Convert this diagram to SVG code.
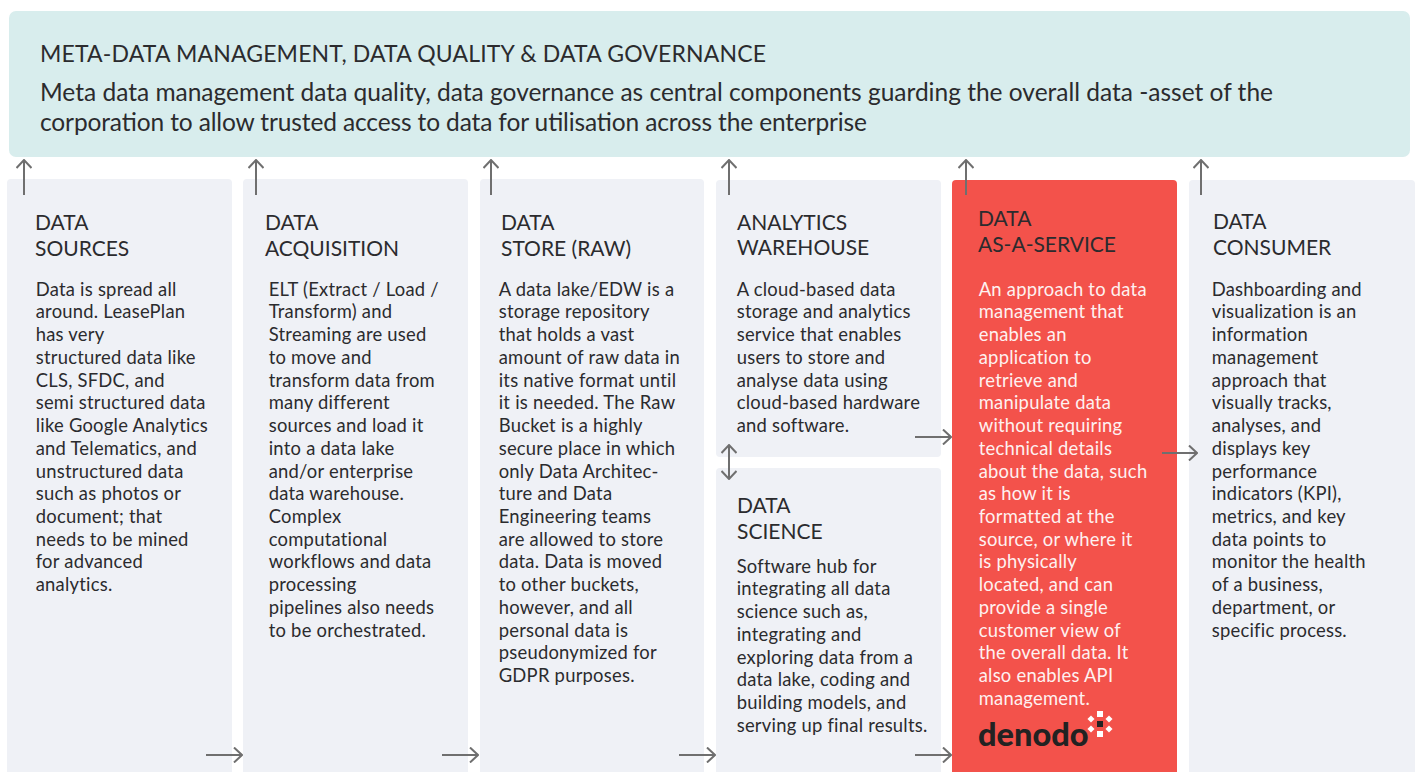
<svg xmlns="http://www.w3.org/2000/svg" width="1415" height="772" viewBox="0 0 1415 772">
<style>
text{font-family:"Lato","Open Sans",sans-serif;fill:#2b2b2e}
.h{font-size:21px}
.b{font-size:18.4px;letter-spacing:.24px;transform:translate(-.3px,.7px)}
.w{fill:#fff;opacity:.92}
.panel{fill:#eff1f6}
.c{fill:none;stroke:#6f6f6f;stroke-width:2}
</style>
<defs>
<marker id="a" viewBox="0 0 10 16" refX="9" refY="8" markerWidth="10" markerHeight="16" orient="auto-start-reverse" markerUnits="userSpaceOnUse"><path d="M1 0.5L9 8L1 15.5" fill="none" stroke="#6f6f6f" stroke-width="2"/></marker>
</defs>
<rect width="1415" height="772" fill="#fff"/>
<g id="top">
<rect x="9" y="11" width="1401" height="146" rx="7" fill="#d8eded"/>
<text x="40" y="62" font-size="23" textLength="726">META-DATA MANAGEMENT, DATA QUALITY &amp; DATA GOVERNANCE</text>
<text x="40" y="101" font-size="24.5" textLength="1233">Meta data management data quality, data governance as central components guarding the overall data -asset of the</text>
<text x="40" y="131" font-size="24.5" textLength="827">corporation to allow trusted access to data for utilisation across the enterprise</text>
</g>
<g id="sources">
<rect class="panel" x="7" y="179" width="225" height="600" rx="4"/>
<text class="h" x="35" y="230">DATA</text><text class="h" x="35" y="256">SOURCES</text>
<text class="b" x="36"><tspan x="36" y="295">Data is spread all</tspan><tspan x="36" y="317">around. LeasePlan</tspan><tspan x="36" y="340">has very</tspan><tspan x="36" y="363">structured data like</tspan><tspan x="36" y="386">CLS, SFDC, and</tspan><tspan x="36" y="408">semi structured data</tspan><tspan x="36" y="431">like Google Analytics</tspan><tspan x="36" y="454">and Telematics, and</tspan><tspan x="36" y="477">unstructured data</tspan><tspan x="36" y="499">such as photos or</tspan><tspan x="36" y="522">document; that</tspan><tspan x="36" y="545">needs to be mined</tspan><tspan x="36" y="567">for advanced</tspan><tspan x="36" y="590">analytics.</tspan></text>
</g>
<g id="acquisition">
<rect class="panel" x="243" y="179" width="225" height="600" rx="4"/>
<text class="h" x="265" y="230">DATA</text><text class="h" x="265" y="256">ACQUISITION</text>
<text class="b"><tspan x="269" y="295">ELT (Extract / Load /</tspan><tspan x="269" y="317">Transform) and</tspan><tspan x="269" y="340">Streaming are used</tspan><tspan x="269" y="363">to move and</tspan><tspan x="269" y="386">transform data from</tspan><tspan x="269" y="408">many different</tspan><tspan x="269" y="431">sources and load it</tspan><tspan x="269" y="454">into a data lake</tspan><tspan x="269" y="477">and/or enterprise</tspan><tspan x="269" y="499">data warehouse.</tspan><tspan x="269" y="522">Complex</tspan><tspan x="269" y="545">computational</tspan><tspan x="269" y="567">workflows and data</tspan><tspan x="269" y="590">processing</tspan><tspan x="269" y="613">pipelines also needs</tspan><tspan x="269" y="636">to be orchestrated.</tspan></text>
</g>
<g id="store">
<rect class="panel" x="480" y="179" width="224" height="600" rx="4"/>
<text class="h" x="501" y="230">DATA</text><text class="h" x="501" y="256">STORE (RAW)</text>
<text class="b"><tspan x="499" y="295">A data lake/EDW is a</tspan><tspan x="499" y="317">storage repository</tspan><tspan x="499" y="340">that holds a vast</tspan><tspan x="499" y="363">amount of raw data in</tspan><tspan x="499" y="386">its native format until</tspan><tspan x="499" y="408">it is needed. The Raw</tspan><tspan x="499" y="431">Bucket is a highly</tspan><tspan x="499" y="454">secure place in which</tspan><tspan x="499" y="477">only Data Architec-</tspan><tspan x="499" y="499">ture and Data</tspan><tspan x="499" y="522">Engineering teams</tspan><tspan x="499" y="545">are allowed to store</tspan><tspan x="499" y="567">data. Data is moved</tspan><tspan x="499" y="590">to other buckets,</tspan><tspan x="499" y="613">however, and all</tspan><tspan x="499" y="636">personal data is</tspan><tspan x="499" y="658">pseudonymized for</tspan><tspan x="499" y="681">GDPR purposes.</tspan></text>
</g>
<g id="warehouse">
<rect class="panel" x="716" y="180" width="225" height="277" rx="4"/>
<text class="h" x="737" y="230">ANALYTICS</text><text class="h" x="737" y="255">WAREHOUSE</text>
<text class="b"><tspan x="737" y="295">A cloud-based data</tspan><tspan x="737" y="317">storage and analytics</tspan><tspan x="737" y="340">service that enables</tspan><tspan x="737" y="363">users to store and</tspan><tspan x="737" y="386">analyse data using</tspan><tspan x="737" y="408">cloud-based hardware</tspan><tspan x="737" y="431">and software.</tspan></text>
</g>
<g id="science">
<rect class="panel" x="716" y="468" width="225" height="310" rx="4"/>
<text class="h" x="737" y="513">DATA</text><text class="h" x="737" y="539">SCIENCE</text>
<text class="b"><tspan x="737" y="572">Software hub for</tspan><tspan x="737" y="594">integrating all data</tspan><tspan x="737" y="617">science such as,</tspan><tspan x="737" y="640">integrating and</tspan><tspan x="737" y="663">exploring data from a</tspan><tspan x="737" y="685">data lake, coding and</tspan><tspan x="737" y="708">building models, and</tspan><tspan x="737" y="731">serving up final results.</tspan></text>
</g>
<g id="daas">
<rect x="952" y="180" width="225" height="600" rx="4" fill="#f3524b"/>
<text class="h" x="978" y="226">DATA</text><text class="h" x="978" y="252">AS-A-SERVICE</text>
<text class="b w"><tspan x="979" y="295">An approach to data</tspan><tspan x="979" y="317">management that</tspan><tspan x="979" y="340">enables an</tspan><tspan x="979" y="363">application to</tspan><tspan x="979" y="386">retrieve and</tspan><tspan x="979" y="408">manipulate data</tspan><tspan x="979" y="431">without requiring</tspan><tspan x="979" y="454">technical details</tspan><tspan x="979" y="477">about the data, such</tspan><tspan x="979" y="499">as how it is</tspan><tspan x="979" y="522">formatted at the</tspan><tspan x="979" y="545">source, or where it</tspan><tspan x="979" y="567">is physically</tspan><tspan x="979" y="590">located, and can</tspan><tspan x="979" y="613">provide a single</tspan><tspan x="979" y="636">customer view of</tspan><tspan x="979" y="658">the overall data. It</tspan><tspan x="979" y="681">also enables API</tspan><tspan x="979" y="704">management.</tspan></text>
<text x="978" y="746" font-size="32.500" font-weight="900" style="fill:#222">denodo</text>
<g fill="#fff"><rect x="1097" y="711" width="6" height="6"/><rect x="1097" y="731" width="6" height="6"/><rect x="1088.500" y="716.500" width="5" height="5" transform="rotate(45 1091 719)"/><rect x="1106.500" y="716.500" width="5" height="5" transform="rotate(45 1109 719)"/><rect x="1088.500" y="726.500" width="5" height="5" transform="rotate(45 1091 729)"/><rect x="1106.500" y="726.500" width="5" height="5" transform="rotate(45 1109 729)"/></g>
<rect x="1097" y="721" width="6" height="6" fill="#222"/>
</g>
<g id="consumer">
<rect class="panel" x="1189" y="180" width="226" height="600" rx="4"/>
<text class="h" x="1213" y="229">DATA</text><text class="h" x="1213" y="255">CONSUMER</text>
<text class="b"><tspan x="1212" y="295">Dashboarding and</tspan><tspan x="1212" y="317">visualization is an</tspan><tspan x="1212" y="340">information</tspan><tspan x="1212" y="363">management</tspan><tspan x="1212" y="386">approach that</tspan><tspan x="1212" y="408">visually tracks,</tspan><tspan x="1212" y="431">analyses, and</tspan><tspan x="1212" y="454">displays key</tspan><tspan x="1212" y="477">performance</tspan><tspan x="1212" y="499">indicators (KPI),</tspan><tspan x="1212" y="522">metrics, and key</tspan><tspan x="1212" y="545">data points to</tspan><tspan x="1212" y="567">monitor the health</tspan><tspan x="1212" y="590">of a business,</tspan><tspan x="1212" y="613">department, or</tspan><tspan x="1212" y="636">specific process.</tspan></text>
</g>
<g id="connectors">
<path class="c" d="M24 195V160" marker-end="url(#a)"/>
<path class="c" d="M256 195V160" marker-end="url(#a)"/>
<path class="c" d="M491 195V160" marker-end="url(#a)"/>
<path class="c" d="M729 195V160" marker-end="url(#a)"/>
<path class="c" d="M966 195V160" marker-end="url(#a)"/>
<path class="c" d="M1201 195V160" marker-end="url(#a)"/>
<path class="c" d="M206 755H242" marker-end="url(#a)"/>
<path class="c" d="M442 755H478" marker-end="url(#a)"/>
<path class="c" d="M679 755H715" marker-end="url(#a)"/>
<path class="c" d="M915 755H951" marker-end="url(#a)"/>
<path class="c" d="M915 437H951" marker-end="url(#a)"/>
<path class="c" d="M1162 453H1197" marker-end="url(#a)"/>
<path class="c" d="M729 445V479" marker-start="url(#a)" marker-end="url(#a)"/>
</g>
</svg>
